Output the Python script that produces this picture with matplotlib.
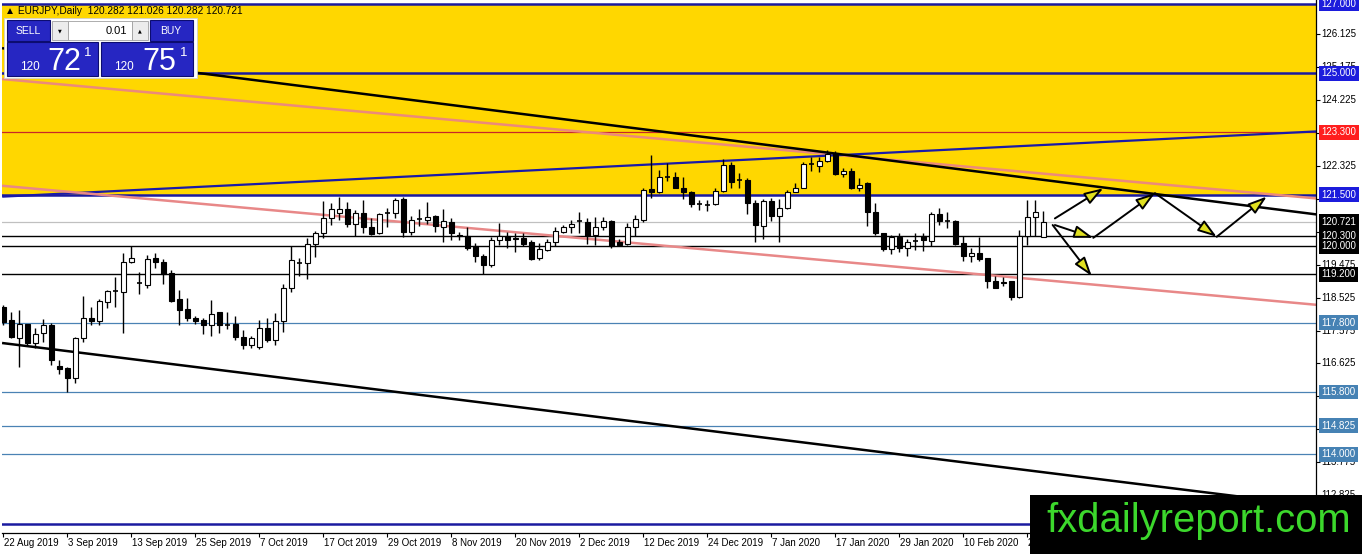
import matplotlib
matplotlib.use("Agg")
import matplotlib.pyplot as plt
from matplotlib.patches import Rectangle, FancyArrowPatch

plt.rcParams['font.family'] = ['Liberation Sans', 'DejaVu Sans']

# ---------------- data ----------------
opens = [118.26, 117.88, 117.35, 117.75, 117.21, 117.49, 117.74, 116.54, 116.48, 116.21,
         117.37, 117.95, 117.85, 118.41, 118.70, 118.68, 119.54, 118.94, 118.89, 119.66,
         119.56, 119.23, 118.48, 118.19, 117.95, 117.88, 117.72, 118.10, 117.74, 117.75,
         117.40, 117.16, 117.11, 117.64, 117.30, 117.85, 118.79, 119.52, 119.52, 120.06,
         120.38, 120.81, 120.98, 121.07, 120.65, 120.96, 120.57, 120.40, 120.95, 120.96,
         121.37, 120.43, 120.79, 120.77, 120.88, 120.57, 120.72, 120.33, 120.31, 120.00,
         119.74, 119.47, 120.19, 120.31, 120.24, 120.24, 120.12, 119.66, 119.90, 120.12,
         120.41, 120.55, 120.72, 120.72, 120.33, 120.55, 120.74, 120.12, 120.06, 120.57,
         120.77, 121.65, 121.58, 122.02, 122.02, 121.70, 121.58, 121.23, 121.22, 121.22,
         121.60, 122.34, 121.93, 121.92, 121.25, 120.60, 121.31, 120.89, 121.12, 121.58,
         121.70, 122.37, 122.33, 122.47, 122.69, 122.08, 122.18, 121.68, 121.82, 120.99,
         120.38, 119.93, 120.26, 119.97, 120.16, 120.31, 120.16, 120.93, 120.75, 120.75,
         120.09, 119.73, 119.80, 119.66, 118.99, 118.98, 118.99, 118.53, 120.29, 120.86,
         120.282]
highs = [118.31, 118.12, 118.17, 117.77, 117.64, 117.91, 117.78, 116.73, 116.53, 117.40,
         118.58, 118.24, 118.49, 118.75, 119.13, 119.80, 120.00, 119.27, 119.76, 119.80,
         119.64, 119.32, 118.75, 118.52, 118.00, 117.95, 118.46, 118.12, 118.10, 117.98,
         117.59, 117.43, 117.88, 117.93, 118.07, 118.91, 120.00, 119.66, 120.24, 120.45,
         121.31, 121.25, 121.44, 121.28, 121.05, 121.34, 120.82, 120.96, 121.10, 121.39,
         121.44, 120.89, 121.08, 121.28, 120.91, 121.08, 120.83, 120.41, 120.57, 120.09,
         119.78, 120.26, 120.67, 120.43, 120.38, 120.38, 120.19, 120.09, 120.22, 120.57,
         120.62, 120.77, 121.01, 120.81, 120.86, 120.86, 120.77, 120.22, 120.67, 120.91,
         121.70, 122.64, 122.21, 122.40, 122.16, 122.02, 121.60, 121.34, 121.34, 121.68,
         122.53, 122.43, 122.11, 121.99, 121.34, 121.37, 121.41, 121.37, 121.63, 121.82,
         122.45, 122.59, 122.59, 122.79, 122.76, 122.28, 122.28, 121.99, 121.85, 121.25,
         120.38, 120.33, 120.38, 120.22, 120.38, 120.38, 121.01, 121.12, 121.01, 120.77,
         120.31, 119.95, 120.26, 119.68, 119.16, 119.13, 119.01, 120.48, 121.34, 121.34,
         121.026]
lows = [117.72, 117.35, 116.53, 117.16, 117.06, 117.25, 116.58, 116.31, 115.79, 116.05,
        117.24, 117.72, 117.72, 118.22, 118.26, 117.49, 119.52, 118.62, 118.81, 119.39,
        118.91, 118.41, 117.72, 117.85, 117.75, 117.47, 117.43, 117.49, 117.62, 117.30,
        117.04, 117.08, 117.04, 117.25, 117.16, 117.54, 118.68, 119.16, 119.06, 119.71,
        120.24, 120.62, 120.77, 120.55, 120.31, 120.38, 120.33, 120.35, 120.55, 120.83,
        120.26, 120.33, 120.60, 120.64, 120.41, 120.12, 120.19, 120.19, 119.90, 119.54,
        119.20, 119.42, 120.04, 119.95, 119.83, 120.00, 119.61, 119.61, 119.87, 120.00,
        120.38, 120.38, 120.38, 120.06, 120.04, 120.48, 119.97, 120.00, 120.04, 120.31,
        120.72, 121.39, 121.54, 121.89, 121.68, 121.37, 121.15, 121.05, 121.03, 121.20,
        121.56, 121.70, 121.70, 120.93, 120.14, 120.22, 120.74, 120.14, 121.08, 121.56,
        121.68, 122.18, 122.16, 122.45, 122.07, 122.02, 121.66, 121.60, 120.60, 120.33,
        119.87, 119.78, 119.83, 119.74, 119.90, 119.87, 120.00, 120.62, 120.53, 120.04,
        119.58, 119.56, 119.58, 118.81, 118.79, 118.87, 118.46, 118.52, 120.04, 120.31,
        120.282]
closes = [117.83, 117.40, 117.75, 117.21, 117.47, 117.72, 116.73, 116.46, 116.21, 117.37,
          117.95, 117.85, 118.43, 118.72, 118.72, 119.56, 119.68, 118.96, 119.64, 119.56,
          119.20, 118.44, 118.17, 117.93, 117.85, 117.72, 118.04, 117.74, 117.75, 117.40,
          117.16, 117.37, 117.64, 117.30, 117.85, 118.79, 119.61, 119.53, 120.06, 120.38,
          120.81, 121.08, 121.07, 120.65, 120.96, 120.57, 120.35, 120.93, 120.97, 121.34,
          120.41, 120.77, 120.78, 120.86, 120.60, 120.74, 120.38, 120.30, 119.97, 119.74,
          119.47, 120.19, 120.29, 120.19, 120.21, 120.06, 119.64, 119.93, 120.12, 120.45,
          120.55, 120.64, 120.73, 120.31, 120.55, 120.74, 120.00, 120.04, 120.57, 120.79,
          121.63, 121.58, 122.02, 122.01, 121.70, 121.58, 121.22, 121.21, 121.20, 121.60,
          122.34, 121.87, 121.92, 121.25, 120.62, 121.31, 120.89, 121.12, 121.58, 121.70,
          122.37, 122.38, 122.47, 122.66, 122.08, 122.18, 121.68, 121.78, 120.99, 120.38,
          119.92, 120.26, 119.95, 120.14, 120.17, 120.19, 120.93, 120.74, 120.74, 120.06,
          119.73, 119.80, 119.63, 118.99, 118.81, 118.95, 118.53, 120.29, 120.86, 120.99,
          120.721]

date_labels = ["22 Aug 2019", "3 Sep 2019", "13 Sep 2019", "25 Sep 2019", "7 Oct 2019",
               "17 Oct 2019", "29 Oct 2019", "8 Nov 2019", "20 Nov 2019", "2 Dec 2019",
               "12 Dec 2019", "24 Dec 2019", "7 Jan 2020", "17 Jan 2020", "29 Jan 2020",
               "10 Feb 2020", "20 Feb 2020"]
date_label_bars = [0, 8, 16, 24, 32, 40, 48, 56, 64, 72, 80, 88, 96, 104, 112, 120, 128]

price_ticks = [126.125, 125.175, 124.225, 123.275, 122.325, 121.375, 120.425, 119.475,
               118.525, 117.575, 116.625, 115.675, 114.725, 113.775, 112.825]

level_prices = [127.0, 125.0, 123.3, 121.5, 120.721, 120.3, 120.0, 119.2,
                117.8, 115.8, 114.825, 114.0, 112.0]
level_kinds = ['blue', 'blue', 'red', 'blue', 'bid', 'black', 'black', 'black',
               'steel', 'steel', 'steel', 'steel', 'blue']

zone_low, zone_high = 121.5, 127.0

trend_bars = [0, 164]
trend_black_upper = [125.72, 120.93]
trend_pink_upper = [124.83, 121.39]
trend_blue_rising = [121.44, 123.32]
trend_pink_lower = [121.75, 118.32]
trend_black_lower = [117.21, 112.51]

arrow_paths_x = [[131.45, 137.5], [131.45, 136.25, 143.96, 151.68, 157.93], [131.17, 136.05]]
arrow_paths_y = [[120.81, 121.68], [120.62, 120.25, 121.54, 120.28, 121.44], [120.62, 119.15]]

title = "\u25B2 EURJPY,Daily  120.282 121.026 120.282 120.721"

# ---------------- styles ----------------
W, H = 1362, 554
line_style = {
    'blue': dict(color='#1a1aa0', lw=1.8),
    'red': dict(color='#c82828', lw=0.9),
    'bid': dict(color='#c0c0c0', lw=0.9),
    'black': dict(color='black', lw=1.0),
    'steel': dict(color='#4a82b4', lw=0.9),
}
label_bg = {'blue': '#1c1cdc', 'red': '#ff1e1e', 'bid': 'black', 'black': 'black', 'steel': '#4682b4'}

fig = plt.figure(figsize=(W / 100, H / 100), dpi=100)
fig.patch.set_facecolor('white')
ax = fig.add_axes([2 / W, 21 / H, 1314 / W, 533 / H])
ax.set_xlim(-0.1625, 164.09)
ax.set_ylim(111.73, 127.115)
ax.set_facecolor('white')
for s in ['top', 'left']:
    ax.spines[s].set_visible(False)
for s in ['right', 'bottom']:
    ax.spines[s].set_color('black')
    ax.spines[s].set_linewidth(0.9)

ax.yaxis.tick_right()
ax.set_yticks(price_ticks)
ax.set_yticklabels([])
ax.set_xticks(date_label_bars)
ax.set_xticklabels([])
ax.tick_params(axis='both', length=3, width=0.8, color='black', direction='out')

# yellow zone
ax.axhspan(zone_low, zone_high, color='#FFD700', zorder=0, lw=0)

# horizontal levels
for p, k in zip(level_prices, level_kinds):
    ax.axhline(p, zorder=1, **line_style[k])

# candles
for i, (o, h, l, c) in enumerate(zip(opens, highs, lows, closes)):
    ax.vlines(i, l, h, color='black', lw=1.0, zorder=3)
    bull = c >= o
    lo, hi = min(o, c), max(o, c)
    if hi - lo < 0.025:
        ax.hlines((o + c) / 2, i - 0.32, i + 0.32, color='black', lw=1.2, zorder=4)
    else:
        ax.add_patch(Rectangle((i - 0.3, lo), 0.6, hi - lo,
                               facecolor='white' if bull else 'black',
                               edgecolor='black', lw=0.8, zorder=4))

# trend lines
ax.plot(trend_bars, trend_pink_upper, color='#ec8a7a', lw=1.8, zorder=2)
ax.plot(trend_bars, trend_blue_rising, color='#1a1aa8', lw=1.6, zorder=2)
ax.plot(trend_bars, trend_pink_lower, color='#e88888', lw=1.8, zorder=2)
ax.plot(trend_bars, trend_black_upper, color='black', lw=1.8, zorder=2)
ax.plot(trend_bars, trend_black_lower, color='black', lw=1.8, zorder=2)

# arrows
for xs, ys in zip(arrow_paths_x, arrow_paths_y):
    for k in range(len(xs) - 1):
        ar = FancyArrowPatch((xs[k], ys[k]), (xs[k + 1], ys[k + 1]),
                             arrowstyle='-|>,head_length=11.5,head_width=3.8',
                             mutation_scale=1, facecolor='#e0e020', edgecolor='black',
                             lw=1.4, shrinkA=0, shrinkB=0, zorder=6)
        ax.add_patch(ar)

# x labels
for b, lab in zip(date_label_bars, date_labels):
    ax.annotate(lab, xy=(b, 0), xycoords=('data', 'axes fraction'),
                xytext=(1, -9.5), textcoords='offset pixels',
                ha='left', va='center', fontsize=7, color='black', annotation_clip=False)

# right price labels
for p in price_ticks:
    ax.annotate(f"{p:.3f}", xy=(1, p), xycoords=('axes fraction', 'data'),
                xytext=(5.5, 0), textcoords='offset pixels',
                ha='left', va='center', fontsize=7, color='black',
                annotation_clip=False, zorder=7)
for p, k in zip(level_prices, level_kinds):
    if p == 112.0:
        continue
    ax.annotate(f"{p:.3f}", xy=(1, p), xycoords=('axes fraction', 'data'),
                xytext=(5.5, 0), textcoords='offset pixels',
                ha='left', va='center', fontsize=7, color='white',
                annotation_clip=False, zorder=8,
                bbox=dict(boxstyle='square,pad=0.25', fc=label_bg[k], ec='none'))

# ---------------- overlay (pixel coordinates) ----------------
ov = fig.add_axes([0, 0, 1, 1])
ov.set_xlim(0, W)
ov.set_ylim(H, 0)
ov.axis('off')
ov.patch.set_visible(False)
ov.set_zorder(10)

ov.text(5, 11, title, fontsize=7.3, ha='left', va='center', color='black')

blue = '#2626c2'
edge = '#0c0c70'
ov.add_patch(Rectangle((4, 18), 193, 60, fc='white', ec='#d0d0d0', lw=0.6))
ov.add_patch(Rectangle((7, 20), 43, 21, fc=blue, ec=edge, lw=0.8))
ov.add_patch(Rectangle((150, 20), 43, 21, fc=blue, ec=edge, lw=0.8))
ov.add_patch(Rectangle((52, 21), 16, 19, fc='#ececec', ec='#a0a0a0', lw=0.6))
ov.add_patch(Rectangle((68, 21), 64, 19, fc='white', ec='#a0a0a0', lw=0.6))
ov.add_patch(Rectangle((132, 21), 16, 19, fc='#ececec', ec='#a0a0a0', lw=0.6))
ov.add_patch(Rectangle((7, 42), 91, 34, fc=blue, ec=edge, lw=0.8))
ov.add_patch(Rectangle((101, 42), 92, 34, fc=blue, ec=edge, lw=0.8))
ov.text(28, 31, "SELL", fontsize=7.5, color='white', ha='center', va='center')
ov.text(171, 31, "BUY", fontsize=7.5, color='white', ha='center', va='center')
ov.text(60, 30.5, "\u25BC", fontsize=3.5, color='black', ha='center', va='center',
        family=['DejaVu Sans'])
ov.text(140, 30.5, "\u25B2", fontsize=3.5, color='black', ha='center', va='center',
        family=['DejaVu Sans'])
ov.text(127, 31, "0.01", fontsize=8, color='black', ha='right', va='center')
ov.text(20, 70, "120", fontsize=8.5, color='white', ha='left', va='baseline')
ov.text(47, 70, "72", fontsize=22, color='white', ha='left', va='baseline')
ov.text(84, 56, "1", fontsize=9.5, color='white', ha='left', va='baseline')
ov.text(114, 70, "120", fontsize=8.5, color='white', ha='left', va='baseline')
ov.text(142, 70, "75", fontsize=22, color='white', ha='left', va='baseline')
ov.text(180, 56, "1", fontsize=9.5, color='white', ha='left', va='baseline')

# watermark
ov.add_patch(Rectangle((1030, 495), W - 1030, H - 495, fc='black', ec='none'))
ov.text(1046, 531.5, "fxdailyreport.com", fontsize=28.8, color='#3cd82c',
        ha='left', va='baseline', family=['Liberation Sans'])

fig.savefig("out.png", dpi=100, facecolor='white')
